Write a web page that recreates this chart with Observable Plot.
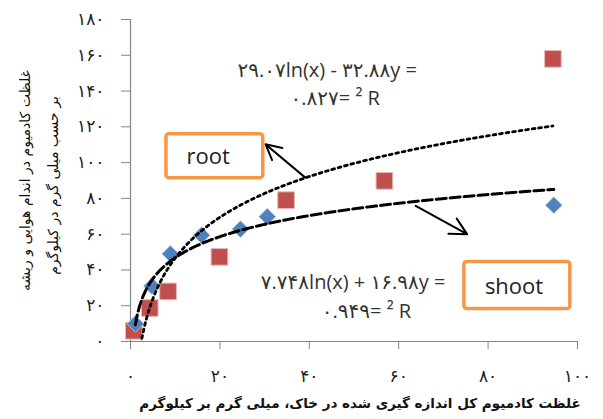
<!DOCTYPE html>
<html><head><meta charset="utf-8">
<script src="https://cdn.jsdelivr.net/npm/d3@7"></script>
<script src="https://cdn.jsdelivr.net/npm/@observablehq/plot@0.6"></script>
<style>body{margin:0;background:#fff} svg{display:block}</style>
</head><body><div id="chart"></div>
<script>
// ---- data ----
const rootX  = [0.75, 4.3, 8.4, 19.9, 34.8, 56.8, 94.5];
const rootY  = [6, 18.7, 28, 47.3, 79, 89.8, 158];
const shootX = [1.1, 4.8, 8.9, 15.9, 24.6, 30.6, 94.7];
const shootY = [9.9, 31, 49, 59.4, 62.8, 69.8, 76.2];

// logarithmic trendlines shown on the chart: y = a ln(x) + b
const rootFit  = {a: 32.88, b: -29.07};
const shootFit = {a: 16.98, b: 7.748};

const xTicks = [0, 20, 40, 60, 80, 100];
const xTickLabels = ["۰", "۲۰", "۴۰", "۶۰", "۸۰", "۱۰۰"];
const yTicks = [0, 20, 40, 60, 80, 100, 120, 140, 160, 180];
const yTickLabels = ["۰", "۲۰", "۴۰", "۶۰", "۸۰", "۱۰۰", "۱۲۰", "۱۴۰", "۱۶۰", "۱۸۰"];

const seriesNames = ["root", "shoot"];
const rootEq  = ["۲۹.۰۷ln(x) - ۳۲.۸۸y =", "۰.۸۲۷= ² R"];
const shootEq = ["۷.۷۴۸ln(x) + ۱۶.۹۸y =", "۰.۹۴۹= ² R"];
const yTitle = ["غلظت کادمیوم در اندام هوایی و ریشه", "بر حسب میلی گرم در کیلوگرم"];
const xTitle = "غلظت کادمیوم کل اندازه گیری شده در خاک، میلی گرم بر کیلوگرم";

// ---- build tables ----
const rootPts = rootX.map((x, i) => ({x, y: rootY[i]}));
const shootPts = shootX.map((x, i) => ({x, y: shootY[i]}));
function fitCurve(xs, f) {
  const lo = d3.min(xs), hi = d3.max(xs);
  return d3.range(lo, hi, 0.2).concat([hi]).map(x => ({x, y: f.a * Math.log(x) + f.b}));
}
const rootCurve = fitCurve(rootX, rootFit);
const shootCurve = fitCurve(shootX, shootFit);

const LRO = "\u202D", PDF = "\u202C";
const vis = s => LRO + s + PDF;

// annotation placement (data coordinates)
const boxes = [
  {name: seriesNames[0], x1: 8.05, x2: 29.7, y1: 91.3, y2: 115.9, tx: 17.4, ty: 103.3},
  {name: seriesNames[1], x1: 74.7, x2: 98.4, y1: 18.1, y2: 44.5, tx: 85.8, ty: 30.6}
];
const arrows = [
  {x1: 39.1, y1: 91.6, x2: 30.2, y2: 110.3},
  {x1: 63.8, y1: 75.8, x2: 75.3, y2: 60.0}
];
const eqText = [
  {t: vis(rootEq[0]), x: 44.0, y: 151.3},
  {t: vis(rootEq[1]), x: 45.8, y: 136.0},
  {t: vis(shootEq[0]), x: 49.8, y: 33.0},
  {t: vis(shootEq[1]), x: 52.8, y: 16.8}
];

const chart = Plot.plot({
  width: 603, height: 419,
  marginLeft: 130, marginRight: 26, marginTop: 19, marginBottom: 78,
  x: {domain: [0, 100]},
  y: {domain: [0, 180]},
  style: {background: "#fff", fontFamily: "'DejaVu Sans', sans-serif"},
  marks: [
    Plot.axisX({ticks: xTicks, tickFormat: d => xTickLabels[xTicks.indexOf(d)], tickSize: 8, tickPadding: 20,
      fontSize: 17, stroke: "#868686", fill: "#222", label: null}),
    Plot.axisY({ticks: yTicks, tickFormat: d => yTickLabels[yTicks.indexOf(d)], tickSize: 9, tickPadding: 17,
      fontSize: 17, stroke: "#868686", fill: "#222", label: null}),
    Plot.ruleX([0], {stroke: "#868686", strokeWidth: 1.2}),
    Plot.ruleY([0], {stroke: "#868686", strokeWidth: 1.2}),
    Plot.dot(rootPts, {x: "x", y: "y", symbol: "square", r: 9.4, fill: "#c0504d", stroke: "#e6b9b8", strokeWidth: 1}),
    Plot.dot(shootPts, {x: "x", y: "y", symbol: "diamond2", r: 7.6, fill: "#4f81bd", stroke: "#b9cde5", strokeWidth: 0.8}),
    Plot.line(rootCurve, {x: "x", y: "y", stroke: "#000", strokeWidth: 2.8, strokeDasharray: "2.8 3.8", clip: true}),
    Plot.line(shootCurve, {x: "x", y: "y", stroke: "#000", strokeWidth: 3, strokeDasharray: "10 4", clip: true}),
    Plot.arrow(arrows, {x1: "x1", y1: "y1", x2: "x2", y2: "y2", stroke: "#000", strokeWidth: 2, headLength: 14, headAngle: 55}),
    Plot.rect(boxes, {x1: "x1", x2: "x2", y1: "y1", y2: "y2", fill: "#fff", stroke: "#f79646", strokeWidth: 3.5, rx: 3}),
    Plot.text(boxes, {x: "tx", y: "ty", text: "name", fontSize: 22, fill: "#222", fontFamily: "'Open Sans', sans-serif"}),
    Plot.text(eqText, {x: "x", y: "y", text: "t", fontSize: 20, fill: "#333", letterSpacing: 0.6,
      fontFamily: "'Open Sans', 'DejaVu Sans', sans-serif"}),
    Plot.text([yTitle[0]], {frameAnchor: "left", textAnchor: "middle", dx: -105, rotate: -90, fontSize: 14, fill: "#111"}),
    Plot.text([yTitle[1]], {frameAnchor: "left", textAnchor: "middle", dx: -77, dy: 5, rotate: -90, fontSize: 14, fill: "#111"}),
    Plot.text([xTitle], {frameAnchor: "bottom", dx: 6, dy: 66, fontSize: 13.5, fontWeight: "bold", fill: "#111"})
  ]
});
document.getElementById("chart").appendChild(chart);
</script>
</body></html>
